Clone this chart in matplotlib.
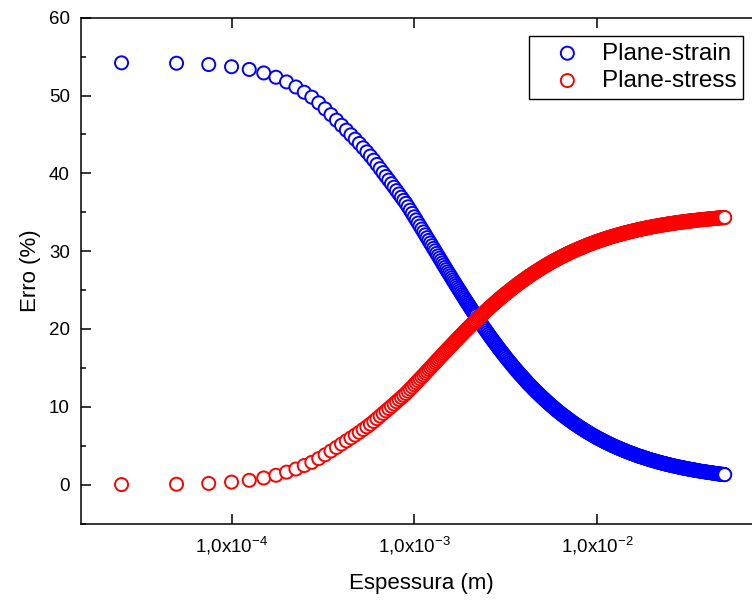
import numpy as np
import matplotlib
matplotlib.use("Agg")
import matplotlib.pyplot as plt
from matplotlib.ticker import FixedLocator, FixedFormatter, MultipleLocator, NullLocator

plt.rcParams['font.family'] = ['Liberation Sans', 'DejaVu Sans']
plt.rcParams['mathtext.fontset'] = 'custom'
plt.rcParams['mathtext.rm'] = 'Liberation Sans'
plt.rcParams['mathtext.it'] = 'Liberation Sans:italic'
plt.rcParams['mathtext.bf'] = 'Liberation Sans:bold'

# thickness samples (micrometres)
espessura_um = [
    25, 50, 75, 100, 125, 150, 175, 200, 225, 250,
    275, 300, 325, 350, 375, 400, 425, 450, 475, 500,
    525, 550, 575, 600, 625, 650, 675, 700, 725, 750,
    775, 800, 825, 850, 875, 900, 925, 950, 975, 1000,
    1025, 1050, 1075, 1100, 1125, 1150, 1175, 1200, 1225, 1250,
    1275, 1300, 1325, 1350, 1375, 1400, 1425, 1450, 1475, 1500,
    1525,
    1550, 1575, 1600, 1625, 1650, 1675, 1700, 1725, 1750, 1775, 1800, 1825, 1850,
    1875, 1900, 1925, 1950, 1975, 2000, 2025, 2050, 2075, 2100, 2125, 2150, 2175,
    2212.5, 2250, 2287.5, 2325, 2362.5, 2400, 2437.5, 2475, 2512.5, 2550, 2587.5, 2625, 2662.5,
    2700, 2737.5, 2775, 2812.5, 2850, 2887.5, 2925, 2962.5, 3000, 3037.5, 3075, 3112.5, 3150,
    3200, 3250, 3300, 3350, 3400, 3450, 3500, 3550, 3600, 3650, 3700,
    3750, 3800, 3850, 3900, 3950, 4000, 4050, 4100, 4150, 4200, 4250,
    4312.5, 4375, 4437.5, 4500, 4562.5, 4625, 4687.5, 4750, 4812.5, 4875, 4937.5,
    5000, 5062.5, 5125, 5187.5, 5250, 5312.5, 5375, 5437.5, 5500, 5562.5, 5625,
    5700, 5775, 5850, 5925, 6000, 6075, 6150, 6225, 6300, 6375,
    6450, 6525, 6600, 6675, 6750, 6825, 6900, 6975, 7050, 7125,
    7225, 7325, 7425, 7525, 7625, 7725, 7825, 7925, 8025,
    8125, 8225, 8325, 8425, 8525, 8625, 8725, 8825, 8925,
    9050, 9175, 9300, 9425, 9550, 9675, 9800, 9925, 10050, 10175, 10300,
    10425, 10550, 10675, 10800, 10925, 11050, 11175, 11300, 11425, 11550, 11675,
    11837.5, 12000, 12150, 12300, 12450, 12600, 12750, 12900, 13050, 13200, 13350,
    13500, 13650, 13800, 13950, 14100, 14250, 14400, 14550, 14700, 14850, 15000,
    15187.5, 15375, 15562.5, 15750, 15937.5, 16125, 16312.5, 16500, 16687.5, 16875, 17062.5,
    17250, 17437.5, 17625, 17812.5, 18000, 18187.5, 18375, 18562.5, 18750, 18937.5, 19125,
    19375, 19625, 19875, 20125, 20375, 20625, 20875, 21125, 21375, 21625, 21875, 22125,
    22375, 22625, 22875, 23125, 23375, 23625, 23875, 24125, 24375, 24625, 24875, 25125,
    25437.5, 25750, 26062.5, 26375, 26687.5, 27000, 27312.5, 27625, 27937.5, 28250,
    28562.5, 28875, 29187.5, 29500, 29812.5, 30125, 30437.5, 30750, 31062.5, 31375,
    31687.5, 32000, 32312.5, 32625, 32937.5, 33250, 33562.5, 33875, 34187.5, 34500,
    35000, 35500, 36000, 36500, 37000, 37500, 38000, 38500, 39000, 39500, 40000,
    40500, 41000, 41500, 42000, 42500, 43000, 43500, 44000, 44500, 45000, 45500,
    46000, 46500, 47000, 47500, 48000, 48500, 49000, 49500, 49750, 50000,
]

erro_plane_strain = [
    54.2, 54.15, 53.98, 53.7, 53.35, 52.9, 52.35, 51.75, 51.1, 50.42,
    49.79, 49.05, 48.29, 47.54, 46.84, 46.17, 45.55, 44.95, 44.39, 43.84,
    43.28, 42.76, 42.22, 41.69, 41.14, 40.6, 40.09, 39.6, 39.13, 38.67,
    38.22, 37.78, 37.35, 36.93, 36.53, 36.14, 35.7, 35.26, 34.85, 34.42,
    34.02, 33.61, 33.23, 32.84, 32.47, 32.1, 31.73, 31.38, 31.04, 30.7,
    30.36, 30.04, 29.71, 29.4, 29.1, 28.79, 28.49, 28.2, 27.91, 27.63,
    27.35,
    27.09, 26.83, 26.57, 26.31, 26.06, 25.81, 25.57, 25.33, 25.1, 24.87, 24.65, 24.42, 24.2,
    23.98, 23.77, 23.56, 23.36, 23.16, 22.97, 22.77, 22.58, 22.39, 22.2, 22.02, 21.85, 21.67,
    21.41, 21.15, 20.91, 20.66, 20.43, 20.2, 19.98, 19.75, 19.54, 19.32, 19.11, 18.9, 18.7,
    18.5, 18.32, 18.13, 17.95, 17.76, 17.59, 17.41, 17.25, 17.08, 16.92, 16.75, 16.6, 16.44,
    16.24, 16.04, 15.85, 15.66, 15.48, 15.3, 15.13, 14.95, 14.79, 14.62, 14.46,
    14.3, 14.15, 14.0, 13.86, 13.71, 13.57, 13.43, 13.29, 13.15, 13.02, 12.89,
    12.74, 12.58, 12.44, 12.29, 12.15, 12.01, 11.88, 11.75, 11.62, 11.49, 11.37,
    11.24, 11.13, 11.01, 10.9, 10.78, 10.67, 10.56, 10.46, 10.35, 10.25, 10.15,
    10.04, 9.92, 9.81, 9.7, 9.59, 9.48, 9.38, 9.28, 9.18, 9.08,
    8.99, 8.9, 8.82, 8.73, 8.65, 8.56, 8.48, 8.39, 8.31, 8.23,
    8.13, 8.03, 7.93, 7.83, 7.74, 7.65, 7.57, 7.48, 7.4,
    7.31, 7.23, 7.15, 7.08, 7.0, 6.93, 6.85, 6.78, 6.71,
    6.63, 6.54, 6.46, 6.38, 6.31, 6.23, 6.16, 6.08, 6.01, 5.94, 5.88,
    5.81, 5.75, 5.69, 5.63, 5.56, 5.5, 5.44, 5.39, 5.33, 5.28, 5.23,
    5.16, 5.09, 5.04, 4.98, 4.93, 4.87, 4.82, 4.76, 4.71, 4.66, 4.61,
    4.56, 4.52, 4.47, 4.43, 4.38, 4.34, 4.29, 4.25, 4.21, 4.17, 4.13,
    4.08, 4.02, 3.99, 3.95, 3.9, 3.85, 3.81, 3.76, 3.72, 3.68, 3.65,
    3.61, 3.58, 3.54, 3.51, 3.47, 3.44, 3.4, 3.37, 3.33, 3.3, 3.27,
    3.23, 3.19, 3.15, 3.11, 3.08, 3.04, 3.01, 2.97, 2.94, 2.9, 2.87, 2.84,
    2.81, 2.78, 2.75, 2.72, 2.7, 2.67, 2.64, 2.61, 2.59, 2.56, 2.54, 2.51,
    2.48, 2.45, 2.42, 2.39, 2.37, 2.34, 2.32, 2.3, 2.27, 2.24,
    2.22, 2.19, 2.17, 2.15, 2.13, 2.11, 2.09, 2.07, 2.05, 2.02,
    2.01, 1.99, 1.97, 1.94, 1.93, 1.91, 1.9, 1.88, 1.87, 1.85,
    1.82, 1.79, 1.77, 1.74, 1.72, 1.69, 1.68, 1.66, 1.64, 1.62, 1.6,
    1.57, 1.56, 1.54, 1.53, 1.51, 1.49, 1.46, 1.45, 1.43, 1.42, 1.4,
    1.39, 1.37, 1.36, 1.34, 1.33, 1.32, 1.31, 1.29, 1.28, 1.28,
]

erro_plane_stress = [
    0.0, 0.05, 0.15, 0.32, 0.55, 0.85, 1.2, 1.6, 2.0, 2.45,
    2.86, 3.34, 3.83, 4.32, 4.77, 5.21, 5.61, 6.0, 6.36, 6.72,
    7.08, 7.42, 7.77, 8.11, 8.47, 8.82, 9.15, 9.47, 9.77, 10.07,
    10.36, 10.65, 10.93, 11.2, 11.46, 11.71, 12.0, 12.28, 12.55, 12.83,
    13.09, 13.35, 13.6, 13.85, 14.09, 14.33, 14.57, 14.8, 15.02, 15.24,
    15.46, 15.67, 15.88, 16.08, 16.28, 16.48, 16.67, 16.86, 17.05, 17.23,
    17.41,
    17.58, 17.75, 17.92, 18.09, 18.25, 18.41, 18.57, 18.72, 18.87, 19.02, 19.17, 19.31, 19.46,
    19.6, 19.74, 19.87, 20.0, 20.13, 20.26, 20.38, 20.51, 20.63, 20.75, 20.87, 20.99, 21.1,
    21.27, 21.43, 21.59, 21.75, 21.9, 22.05, 22.2, 22.34, 22.48, 22.62, 22.76, 22.89, 23.02,
    23.15, 23.27, 23.39, 23.51, 23.63, 23.75, 23.86, 23.97, 24.07, 24.18, 24.29, 24.39, 24.49,
    24.62, 24.75, 24.87, 24.99, 25.11, 25.23, 25.34, 25.45, 25.56, 25.67, 25.78,
    25.88, 25.98, 26.07, 26.17, 26.26, 26.35, 26.44, 26.53, 26.62, 26.71, 26.79,
    26.89, 26.99, 27.09, 27.18, 27.27, 27.36, 27.45, 27.53, 27.62, 27.7, 27.78,
    27.86, 27.94, 28.01, 28.09, 28.16, 28.23, 28.3, 28.37, 28.44, 28.51, 28.57,
    28.65, 28.72, 28.79, 28.86, 28.93, 29.0, 29.07, 29.13, 29.2, 29.26,
    29.32, 29.38, 29.44, 29.49, 29.55, 29.6, 29.66, 29.71, 29.76, 29.81,
    29.88, 29.94, 30.01, 30.07, 30.13, 30.19, 30.25, 30.3, 30.36,
    30.41, 30.46, 30.51, 30.56, 30.61, 30.66, 30.71, 30.76, 30.8,
    30.86, 30.91, 30.96, 31.01, 31.06, 31.11, 31.16, 31.21, 31.26, 31.3, 31.34,
    31.38, 31.42, 31.46, 31.5, 31.54, 31.58, 31.62, 31.66, 31.69, 31.73, 31.76,
    31.81, 31.85, 31.89, 31.92, 31.96, 31.99, 32.03, 32.06, 32.1, 32.13, 32.16,
    32.19, 32.22, 32.25, 32.28, 32.31, 32.34, 32.37, 32.4, 32.42, 32.45, 32.47,
    32.51, 32.54, 32.57, 32.59, 32.62, 32.65, 32.68, 32.71, 32.74, 32.76, 32.79,
    32.81, 32.83, 32.85, 32.88, 32.9, 32.92, 32.94, 32.97, 32.99, 33.01, 33.03,
    33.06, 33.08, 33.11, 33.13, 33.16, 33.18, 33.2, 33.22, 33.25, 33.27, 33.29, 33.31,
    33.33, 33.35, 33.37, 33.38, 33.4, 33.42, 33.44, 33.46, 33.48, 33.49, 33.51, 33.52,
    33.54, 33.56, 33.58, 33.6, 33.62, 33.63, 33.65, 33.66, 33.68, 33.7,
    33.72, 33.73, 33.74, 33.75, 33.77, 33.78, 33.8, 33.81, 33.83, 33.84,
    33.85, 33.86, 33.88, 33.89, 33.9, 33.91, 33.92, 33.93, 33.94, 33.95,
    33.97, 33.99, 34.01, 34.02, 34.04, 34.05, 34.06, 34.07, 34.09, 34.1, 34.12,
    34.13, 34.14, 34.15, 34.16, 34.17, 34.19, 34.2, 34.21, 34.22, 34.23, 34.24,
    34.25, 34.26, 34.27, 34.28, 34.29, 34.29, 34.3, 34.31, 34.31, 34.32,
]

series_labels = ['Plane-strain', 'Plane-stress']
series_colors = ['#0000FF', '#FF0000']
xtick_values = [1e-4, 1e-3, 1e-2]
xtick_labels = [r'1,0x10$^{-4}$', r'1,0x10$^{-3}$', r'1,0x10$^{-2}$']
ytick_values = [0, 10, 20, 30, 40, 50, 60]

fig = plt.figure(figsize=(7.52, 6.01), dpi=100)
ax = fig.add_axes([81 / 752, 77.5 / 601, 681 / 752, 505.8 / 601])

x_m = np.array(espessura_um) * 1e-6
for yvals, lab, col in zip([erro_plane_strain, erro_plane_stress], series_labels, series_colors):
    n = len(yvals)
    # per-point colour lists -> generic collection drawing (sub-pixel marker positions)
    ax.scatter(x_m, yvals, s=9.4 ** 2, marker='o', facecolors=['white'] * n,
               edgecolors=[col] * n, linewidths=1.4, label=lab)

ax.set_xscale('log')
ax.set_xlim(1.5e-5, 8e-2)
ax.set_ylim(-5, 60)
ax.xaxis.set_major_locator(FixedLocator(xtick_values))
ax.xaxis.set_major_formatter(FixedFormatter(xtick_labels))
ax.xaxis.set_minor_locator(NullLocator())
ax.yaxis.set_major_locator(FixedLocator(ytick_values))
ax.yaxis.set_minor_locator(MultipleLocator(5))
ax.tick_params(which='both', direction='in', top=True, right=True, width=1.1, color='black')
ax.tick_params(which='major', length=7.2, labelsize=13.5, pad=8)
ax.tick_params(which='minor', length=3.6)
for s in ax.spines.values():
    s.set_linewidth(1.1)

ax.set_xlabel('Espessura (m)', fontsize=16, labelpad=12)
ax.set_ylabel('Erro (%)', fontsize=16, labelpad=6)

leg = ax.legend(loc='upper right', bbox_to_anchor=(743.3 / 752, 1 - 36 / 601),
                bbox_transform=fig.transFigure, borderaxespad=0, fontsize=17.5,
                frameon=True, fancybox=False, edgecolor='black', framealpha=1,
                handlelength=2.6, handletextpad=0.13, borderpad=0.27,
                labelspacing=0.22, scatterpoints=1)
leg.get_frame().set_linewidth(1.0)

fig.savefig('out.png', dpi=100)
